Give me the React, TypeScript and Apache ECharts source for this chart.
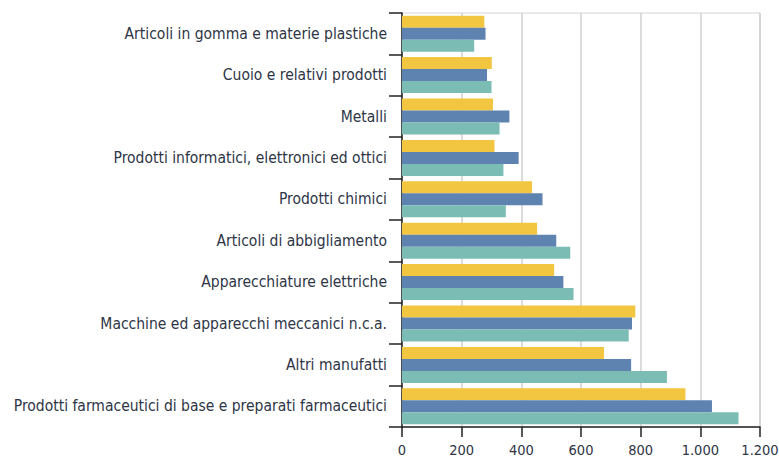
import React, { useEffect, useRef } from "react";
import * as echarts from "echarts";

const categories = [
  "Articoli in gomma e materie plastiche",
  "Cuoio e relativi prodotti",
  "Metalli",
  "Prodotti informatici, elettronici ed ottici",
  "Prodotti chimici",
  "Articoli di abbigliamento",
  "Apparecchiature elettriche",
  "Macchine ed apparecchi meccanici n.c.a.",
  "Altri manufatti",
  "Prodotti farmaceutici di base e preparati farmaceutici",
];

const seriesYellow = [276, 301, 305, 310, 436, 453, 510, 782, 677, 950];
const seriesBlue = [280, 285, 360, 391, 471, 517, 541, 771, 768, 1039];
const seriesTeal = [242, 300, 327, 340, 348, 564, 575, 760, 888, 1128];

const xTicks = [0, 200, 400, 600, 800, 1000, 1200];

const FONT = "'DejaVu Sans Condensed', 'Liberation Sans Narrow', sans-serif";
const TEXT = "#2e3546";

const fmt = (v: number) => String(v).replace(/\B(?=(\d{3})+(?!\d))/g, ".");

export default function App() {
  const ref = useRef<HTMLDivElement>(null);
  useEffect(() => {
    if (!ref.current) return;
    document.body.style.margin = "0";
    document.body.style.overflow = "hidden";
    const chart = echarts.init(ref.current, undefined, { renderer: "svg" });
    const mk = (name: string, data: number[], color: string) => ({
      name,
      type: "bar",
      data,
      barGap: "0%",
      barCategoryGap: "13%",
      itemStyle: { color },
    });
    chart.setOption({
      animation: false,
      grid: {
        left: 402,
        right: 19,
        top: 13,
        bottom: 34,
        show: true,
        borderColor: "#d4d4d4",
        borderWidth: 1,
        containLabel: false,
        outerBoundsMode: "none",
      },
      xAxis: {
        type: "value",
        min: xTicks[0],
        max: xTicks[xTicks.length - 1],
        interval: 200,
        axisLine: { show: true, lineStyle: { color: "#222", width: 1.5 } },
        axisTick: { show: true, length: 10, lineStyle: { color: "#222", width: 1.5 } },
        splitLine: { show: true, lineStyle: { color: "#cfcfcf", width: 1.5 } },
        axisLabel: {
          color: TEXT,
          fontFamily: FONT,
          fontSize: 14.5,
          margin: 15,
          hideOverlap: false,
          formatter: fmt,
        },
      },
      yAxis: {
        type: "category",
        data: categories,
        inverse: true,
        axisLine: { show: true, lineStyle: { color: "#222", width: 1.5 } },
        axisTick: { show: true, length: 13, lineStyle: { color: "#222", width: 1.5 } },
        axisLabel: {
          color: TEXT,
          fontFamily: FONT,
          fontSize: 15.5,
          margin: 15,
        },
      },
      series: [
        mk("A", seriesYellow, "#F2C641"),
        mk("B", seriesBlue, "#5F83B0"),
        mk("C", seriesTeal, "#7BBDB4"),
      ],
    });
    return () => chart.dispose();
  }, []);
  return <div ref={ref} style={{ width: 779, height: 461 }} />;
}
